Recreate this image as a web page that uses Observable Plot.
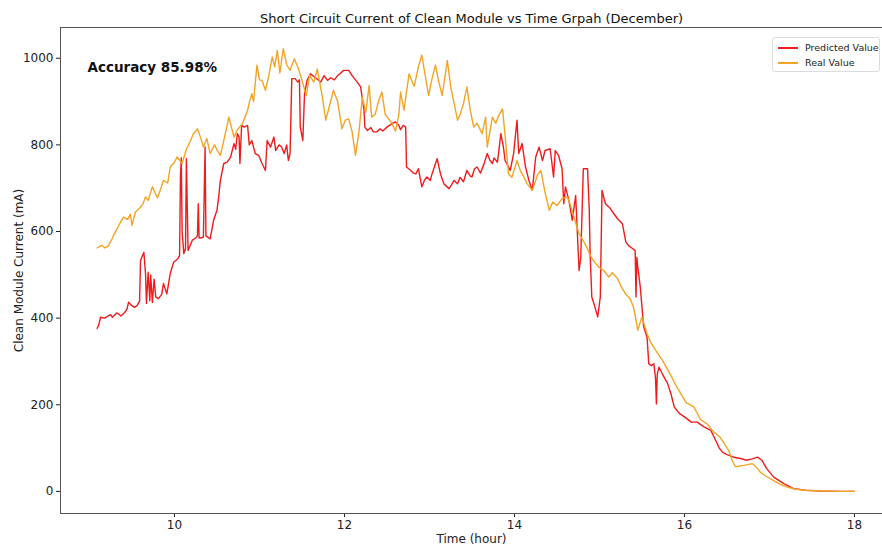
<!DOCTYPE html>
<html>
<head>
<meta charset="utf-8">
<script src="https://cdn.jsdelivr.net/npm/d3@7"></script>
<script src="https://cdn.jsdelivr.net/npm/@observablehq/plot@0.6"></script>
<style>
  html, body { margin: 0; padding: 0; background: #fff; }
  #wrap { position: relative; width: 882px; height: 546px; font-family: "DejaVu Sans", sans-serif; }
  #legend {
    position: absolute; left: 772px; top: 37px; width: 108px; height: 35px;
    border: 1px solid #dcdcdc; border-radius: 3px; background: rgba(255,255,255,0.85);
    font-size: 9.5px; color: #222; box-sizing: border-box; padding: 2px 0 0 5px;
    white-space: nowrap;
  }
  #legend .item { display: flex; align-items: center; height: 15px; }
  #legend .swatch { display: inline-block; width: 20px; height: 2px; margin-right: 7px; }
</style>
</head>
<body>
<div id="wrap">
  <div id="chart"></div>
  <div id="legend"></div>
</div>
<script>
// Short-circuit current of the clean module, December — [hour, mA]
const predicted = [
  [9.09,376],[9.11,385],[9.13,402],[9.18,400],[9.22,405],[9.25,408],[9.27,402],[9.29,406],[9.32,412],[9.34,410],[9.37,405],[9.40,410],
  [9.44,420],[9.46,437],[9.49,430],[9.53,425],[9.56,429],[9.59,440],[9.60,533],[9.64,552],[9.66,500],
  [9.67,434],[9.69,506],[9.71,440],[9.72,500],[9.74,436],[9.76,490],[9.78,449],[9.81,445],
  [9.85,455],[9.87,480],[9.91,456],[9.95,503],[9.99,529],[10.04,537],[10.06,545],[10.07,726],
  [10.08,770],[10.09,600],[10.11,549],[10.13,560],[10.14,768],[10.16,556],[10.21,580],[10.25,585],
  [10.27,590],[10.28,664],[10.29,585],[10.31,585],[10.34,587],[10.36,795],[10.37,590],[10.42,583],
  [10.46,626],[10.50,649],[10.52,680],[10.54,718],[10.58,757],[10.62,760],[10.66,772],[10.70,803],
  [10.72,790],[10.74,826],[10.76,818],[10.77,757],[10.79,845],[10.82,841],[10.86,845],[10.88,800],
  [10.91,810],[10.95,780],[10.99,776],[11.03,757],[11.07,741],[11.09,810],[11.13,795],[11.17,818],
  [11.19,787],[11.23,800],[11.26,795],[11.29,780],[11.32,800],[11.34,764],[11.36,780],[11.38,953],
  [11.42,953],[11.45,945],[11.47,950],[11.48,841],[11.51,810],[11.53,918],[11.56,949],[11.60,964],
  [11.66,955],[11.72,945],[11.76,960],[11.80,949],[11.84,955],[11.88,950],[11.92,960],[11.95,965],
  [11.99,972],[12.05,972],[12.09,960],[12.15,945],[12.19,934],[12.23,880],[12.24,841],[12.27,833],
  [12.31,840],[12.34,830],[12.38,830],[12.42,837],[12.45,832],[12.50,841],[12.56,849],[12.60,853],
  [12.64,845],[12.66,835],[12.69,845],[12.72,841],[12.73,749],[12.78,741],[12.81,735],[12.84,733],
  [12.87,745],[12.91,703],[12.94,718],[12.97,726],[13.01,718],[13.03,733],[13.09,768],[13.13,733],
  [13.17,710],[13.23,699],[13.25,705],[13.29,718],[13.33,710],[13.36,725],[13.40,715],[13.44,741],
  [13.48,728],[13.50,726],[13.53,745],[13.56,749],[13.60,735],[13.64,755],[13.68,780],[13.71,765],
  [13.74,757],[13.76,770],[13.80,760],[13.84,826],[13.87,795],[13.89,764],[13.95,741],[13.99,780],
  [14.03,857],[14.05,780],[14.09,803],[14.13,749],[14.17,718],[14.21,695],[14.25,772],[14.29,795],
  [14.33,764],[14.36,787],[14.42,791],[14.46,726],[14.48,787],[14.52,775],[14.56,745],[14.58,664],
  [14.60,703],[14.64,672],[14.68,626],[14.72,683],[14.76,510],[14.78,540],[14.81,745],[14.86,745],
  [14.88,649],[14.89,549],[14.91,449],[14.94,430],[14.98,403],[15.01,449],[15.03,695],[15.07,664],
  [15.12,655],[15.17,641],[15.21,630],[15.27,618],[15.31,576],[15.34,568],[15.38,562],[15.42,556],
  [15.43,449],[15.44,540],[15.45,520],[15.48,472],[15.52,380],[15.56,356],[15.58,295],[15.61,290],
  [15.64,295],[15.66,260],[15.67,202],[15.68,270],[15.70,287],[15.73,275],[15.76,264],[15.80,250],
  [15.84,226],[15.88,195],[15.94,180],[16.00,172],[16.08,160],[16.15,160],[16.23,149],[16.31,141],
  [16.35,125],[16.41,100],[16.45,90],[16.50,85],[16.58,79],[16.66,76],[16.73,72],[16.80,75],
  [16.86,79],[16.91,72],[16.97,52],[17.05,33],[17.17,18],[17.29,6],[17.42,3],[17.60,1],
  [17.84,0],[18.00,0]
];

const real = [
  [9.09,562],[9.12,566],[9.15,568],[9.18,562],[9.22,566],[9.27,585],[9.30,598],[9.33,608],[9.36,620],[9.40,633],[9.45,628],
  [9.48,640],[9.50,614],[9.54,645],[9.57,650],[9.60,656],[9.63,664],[9.66,680],[9.69,672],[9.74,703],[9.77,690],[9.80,678],
  [9.84,700],[9.87,718],[9.92,712],[9.95,749],[10.00,760],[10.03,772],[10.09,757],[10.14,790],
  [10.19,810],[10.22,825],[10.27,837],[10.31,815],[10.34,795],[10.38,815],[10.42,780],[10.47,800],
  [10.51,785],[10.54,776],[10.58,810],[10.64,864],[10.70,818],[10.74,835],[10.80,849],[10.86,880],
  [10.89,905],[10.91,918],[10.93,900],[10.97,984],[11.00,950],[11.03,949],[11.07,926],[11.11,960],
  [11.15,1003],[11.18,980],[11.21,1018],[11.24,966],[11.28,1022],[11.32,985],[11.36,972],[11.41,999],
  [11.46,975],[11.50,949],[11.55,914],[11.59,960],[11.64,945],[11.68,975],[11.74,910],[11.78,857],
  [11.81,880],[11.85,910],[11.87,926],[11.92,900],[11.97,837],[12.01,857],[12.05,860],[12.09,830],
  [12.13,776],[12.17,830],[12.21,910],[12.25,875],[12.29,937],[12.32,864],[12.36,870],[12.40,900],
  [12.44,922],[12.48,870],[12.52,860],[12.56,849],[12.60,832],[12.64,870],[12.66,922],[12.70,880],
  [12.76,964],[12.82,935],[12.87,980],[12.91,1007],[12.95,960],[12.99,914],[13.03,953],[13.07,984],
  [13.11,945],[13.15,914],[13.21,995],[13.25,934],[13.29,895],[13.33,857],[13.36,870],[13.40,895],
  [13.44,934],[13.48,880],[13.52,841],[13.56,850],[13.62,826],[13.66,864],[13.68,795],[13.74,864],
  [13.78,850],[13.82,870],[13.86,883],[13.90,800],[13.93,733],[13.97,725],[14.03,764],[14.07,740],
  [14.11,726],[14.15,710],[14.21,695],[14.27,730],[14.31,741],[14.36,690],[14.41,649],[14.45,668],
  [14.50,660],[14.56,676],[14.62,680],[14.66,660],[14.70,633],[14.76,595],[14.82,575],[14.86,560],
  [14.89,545],[14.94,530],[14.99,518],[15.05,510],[15.11,495],[15.15,505],[15.21,492],[15.25,475],
  [15.31,455],[15.36,445],[15.40,426],[15.44,385],[15.45,372],[15.50,403],[15.56,364],[15.60,345],
  [15.66,326],[15.74,303],[15.79,285],[15.84,268],[15.89,248],[15.95,228],[16.02,205],[16.11,195],
  [16.19,166],[16.27,155],[16.34,138],[16.42,125],[16.47,110],[16.52,95],[16.56,72],[16.60,57],
  [16.70,60],[16.80,64],[16.85,55],[16.89,45],[16.96,35],[17.05,25],[17.13,16],[17.21,10],
  [17.31,5],[17.44,2],[17.60,1],[17.78,0],[18.00,0]
];

const seriesNames = ["Predicted Value", "Real Value"];
const seriesColors = ["#ee1c1c", "#f2a524"];
const hourTicks = [10, 12, 14, 16, 18];
const currentTicks = [0, 200, 400, 600, 800, 1000];
const chartTitle = "Short Circuit Current of Clean Module vs Time Grpah (December)";
const accuracyLabel = "Accuracy 85.98%";

const plain = d => String(d);

const chart = Plot.plot({
  width: 882,
  height: 546,
  marginLeft: 60,
  marginRight: 0,
  marginTop: 27,
  marginBottom: 33,
  style: { fontFamily: "DejaVu Sans, sans-serif", fontSize: "12px", color: "#222", background: "#fff" },
  x: { domain: [8.659, 18.33] },
  y: { domain: [-51, 1071] },
  marks: [
    Plot.axisX({ ticks: hourTicks, tickFormat: plain, tickSize: 4, tickPadding: 3, label: "Time (hour)",
      labelAnchor: "center", labelArrow: "none", labelOffset: 29, fontSize: 12 }),
    Plot.axisY({ ticks: currentTicks, tickFormat: plain, tickSize: 4, tickPadding: 3, label: "Clean Module Current (mA)",
      labelAnchor: "center", labelArrow: "none", labelOffset: 46, fontSize: 12 }),
    Plot.frame({ anchor: "left", stroke: "#555" }),
    Plot.frame({ anchor: "bottom", stroke: "#555" }),
    Plot.frame({ anchor: "top", stroke: "#555" }),
    Plot.line(predicted, { x: d => d[0], y: d => d[1], stroke: seriesColors[0], strokeWidth: 1.4 }),
    Plot.line(real, { x: d => d[0], y: d => d[1], stroke: seriesColors[1], strokeWidth: 1.4 }),
    Plot.text([chartTitle], { frameAnchor: "top", dy: -9, lineAnchor: "middle", fontSize: 13, fill: "#111" }),
    Plot.text([accuracyLabel], { frameAnchor: "top-left", dx: 27, dy: 40, lineAnchor: "middle", textAnchor: "start",
      fontSize: 13.5, fontWeight: "bold", fill: "#111" })
  ]
});
document.getElementById("chart").appendChild(chart);

// legend
const legend = document.getElementById("legend");
seriesNames.forEach((name, i) => {
  const item = document.createElement("div");
  item.className = "item";
  const sw = document.createElement("span");
  sw.className = "swatch";
  sw.style.background = seriesColors[i];
  const label = document.createElement("span");
  label.textContent = name;
  item.append(sw, label);
  legend.appendChild(item);
});
</script>
</body>
</html>
